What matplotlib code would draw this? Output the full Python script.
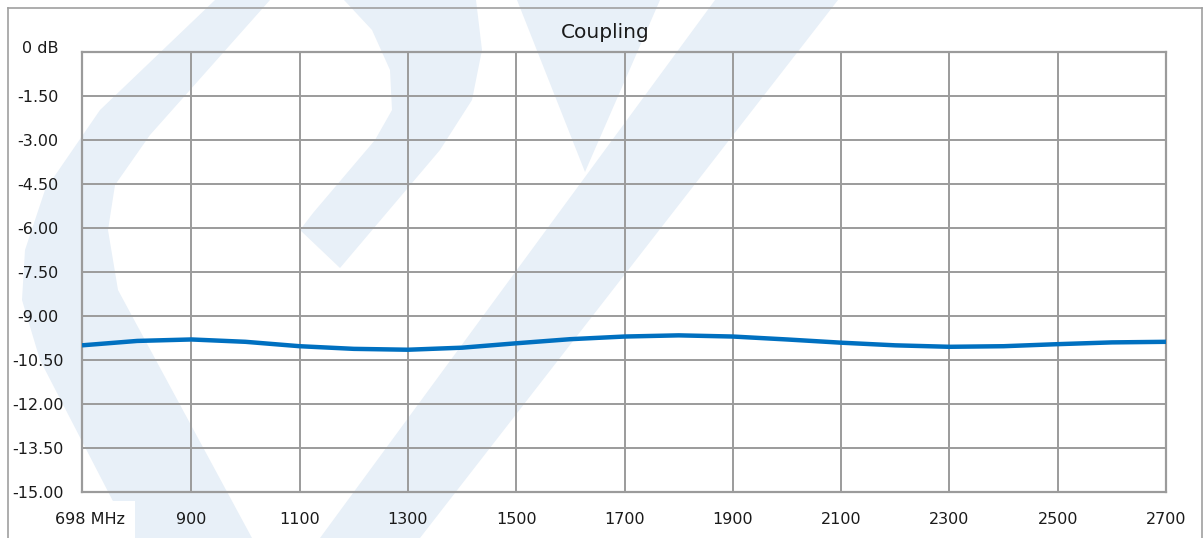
import numpy as np
import matplotlib.pyplot as plt
from matplotlib.patches import Polygon, Rectangle
from matplotlib.lines import Line2D
from matplotlib.transforms import ScaledTranslation

# Coupling curve (MHz, dB)
freq_mhz = [698, 800, 900, 1000, 1100, 1200, 1300, 1400, 1500, 1600, 1700,
            1800, 1900, 2000, 2100, 2200, 2300, 2400, 2500, 2600, 2700]
coupling_db = [-10.00, -9.85, -9.80, -9.88, -10.03, -10.12, -10.15, -10.08, -9.93, -9.79, -9.70,
               -9.66, -9.70, -9.80, -9.91, -10.00, -10.05, -10.03, -9.96, -9.90, -9.88]

x_ticks = [698, 900, 1100, 1300, 1500, 1700, 1900, 2100, 2300, 2500, 2700]
x_labels = ['698 MHz', '900', '1100', '1300', '1500', '1700', '1900', '2100', '2300', '2500', '2700']
y_ticks = [0, -1.5, -3, -4.5, -6, -7.5, -9, -10.5, -12, -13.5, -15]
y_labels = ['0 dB', '-1.50', '-3.00', '-4.50', '-6.00', '-7.50', '-9.00',
            '-10.50', '-12.00', '-13.50', '-15.00']

W, H = 1204, 538
plt.rcParams['font.family'] = ['DejaVu Sans']

fig = plt.figure(figsize=(W / 100, H / 100), dpi=100)
fig.patch.set_facecolor('white')


def px(pts):
    # figure pixel coords (origin top-left) -> figure fraction
    return [(x / W, 1 - y / H) for x, y in pts]


# faint logo watermark in the background
wm_color = '#e8f0f8'
shapes = [
    [(715, 0), (838, 0), (420, 538), (320, 538)],
    [(215, 0), (270, 0), (150, 135), (115, 185), (108, 230), (118, 290), (252, 538), (132, 538),
     (40, 360), (22, 300), (25, 250), (45, 190), (100, 110)],
    [(344, 0), (476, 0), (482, 50), (472, 100), (440, 150), (340, 268), (300, 230), (313, 213),
     (375, 140), (392, 110), (390, 70), (372, 30)],
    [(517, 0), (660, 0), (585, 172)],
]
for s in shapes:
    fig.patches.append(Polygon(px(s), closed=True, transform=fig.transFigure,
                               facecolor=wm_color, edgecolor='none', zorder=-2))
fig.patches.append(Rectangle((8 / W, 0), 127 / W, 37 / H, transform=fig.transFigure,
                             facecolor='white', edgecolor='none', zorder=-1))

# outer chart border (bottom edge is cut off in the original)
border = '#a0a0a0'
for (x0, y0), (x1, y1) in [((8, 8), (1202, 8)), ((8, 8), (8, 540)), ((1202, 8), (1202, 540))]:
    (fx0, fy0), (fx1, fy1) = px([(x0, y0), (x1, y1)])
    fig.lines.append(Line2D([fx0, fx1], [fy0, fy1], transform=fig.transFigure,
                            color=border, linewidth=1.2, zorder=3))

ax = fig.add_axes([82 / W, 1 - 492 / H, (1166 - 82) / W, (492 - 52) / H])
ax.patch.set_alpha(0)

ax.plot(freq_mhz, coupling_db, color='#0070c0', linewidth=3.2, solid_capstyle='butt', zorder=3)

ax.set_xlim(698, 2700)
ax.set_ylim(-15, 0)
ax.set_xticks(x_ticks, x_labels)
ax.set_yticks(y_ticks, y_labels)
ax.grid(True, color='#9b9b9b', linewidth=1.4)
ax.set_axisbelow(True)
for sp in ax.spines.values():
    sp.set_color('#9b9b9b')
    sp.set_linewidth(1.6)

ax.tick_params(length=0, labelsize=11.5, colors='#1a1a1a')
ax.tick_params(axis='y', pad=31.5)
ax.tick_params(axis='x', pad=19.5)
for lab in ax.get_yticklabels():
    lab.set_ha('center')
for lab in ax.get_xticklabels():
    lab.set_va('center')
first = ax.get_xticklabels()[0]
first.set_transform(first.get_transform() + ScaledTranslation(8 / 100, 0, fig.dpi_scale_trans))
top = ax.get_yticklabels()[0]
top.set_transform(top.get_transform() + ScaledTranslation(2 / 100, 5 / 100, fig.dpi_scale_trans))

fig.text(605 / W, 1 - 33 / H, 'Coupling', ha='center', va='center', fontsize=14.5, color='#1a1a1a')

fig.savefig('out.png', dpi=100)
